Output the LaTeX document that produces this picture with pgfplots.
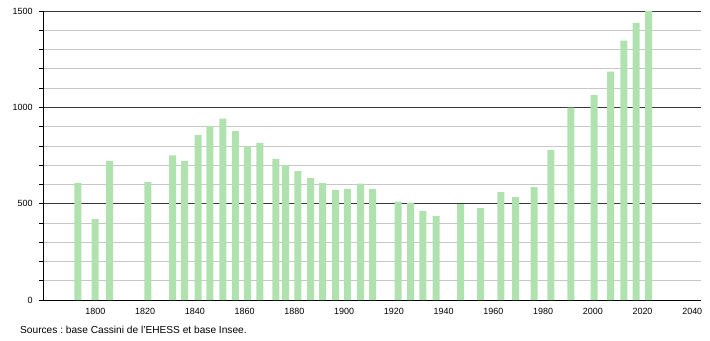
\documentclass[border=0pt]{standalone}
\usepackage{pgfplots}
\pgfplotsset{compat=1.18}
\usepackage{fontspec}
\setmainfont{Liberation Sans}
\frenchspacing
\definecolor{barg}{RGB}{176,226,176}
\begin{document}
\begin{tikzpicture}[x=1bp,y=1bp]
\path (0,0) rectangle (710,340);
\begin{axis}[at={(43.7bp,40bp)}, anchor=south west, scale only axis,
  width=657bp, height=289bp,
  xmin=1779.25, xmax=2043.4, ymin=0, ymax=1500,
  axis x line=bottom, axis y line=left,
  axis line style={-, black, line width=0.8bp},
  xtick={1800,1820,...,2040}, ytick={0,500,1000,1500},
  minor ytick={100,200,300,400,600,700,800,900,1100,1200,1300,1400},
  ymajorgrids, yminorgrids,
  major grid style={black!78, line width=0.7bp},
  minor grid style={black!22, line width=0.7bp},
  tick label style={font=\fontsize{9}{10}\selectfont},
  /pgf/number format/assume math mode=true,
  /pgf/number format/1000 sep={},
  xtick style={draw=none},
  ytick style={black, line width=0.6bp},
  tick align=outside,
  major tick length=4.5bp, minor tick length=4.5bp,
  xticklabel style={yshift=0bp},
  yticklabel style={xshift=-3bp},
  ybar, bar width=7bp,
]
\addplot[fill=barg, draw=none] coordinates {
(1793.0,607) (1799.9,420) (1805.8,721) (1821.1,612) (1831.1,751) (1835.9,721)
(1841.3,856) (1846.1,903) (1851.3,941) (1856.3,877) (1861.1,799) (1866.2,816)
(1872.6,732) (1876.5,700) (1881.4,669) (1886.6,633) (1891.4,607) (1896.6,571)
(1901.3,576) (1906.7,604) (1911.5,576) (1921.7,510) (1926.8,505) (1931.7,462)
(1937.0,436) (1946.9,497) (1954.9,477) (1963.1,560) (1969.0,534) (1976.4,586)
(1983.2,778) (1991.2,998) (2000.5,1064) (2007.2,1185) (2012.5,1346) (2017.4,1437)
(2022.5,1500)
};
\end{axis}
\node[anchor=base west, font=\fontsize{10.2}{12}\selectfont, inner sep=0pt] at (20,7) {Sources : base Cassini de l'EHESS et base Insee.};
\end{tikzpicture}
\end{document}
